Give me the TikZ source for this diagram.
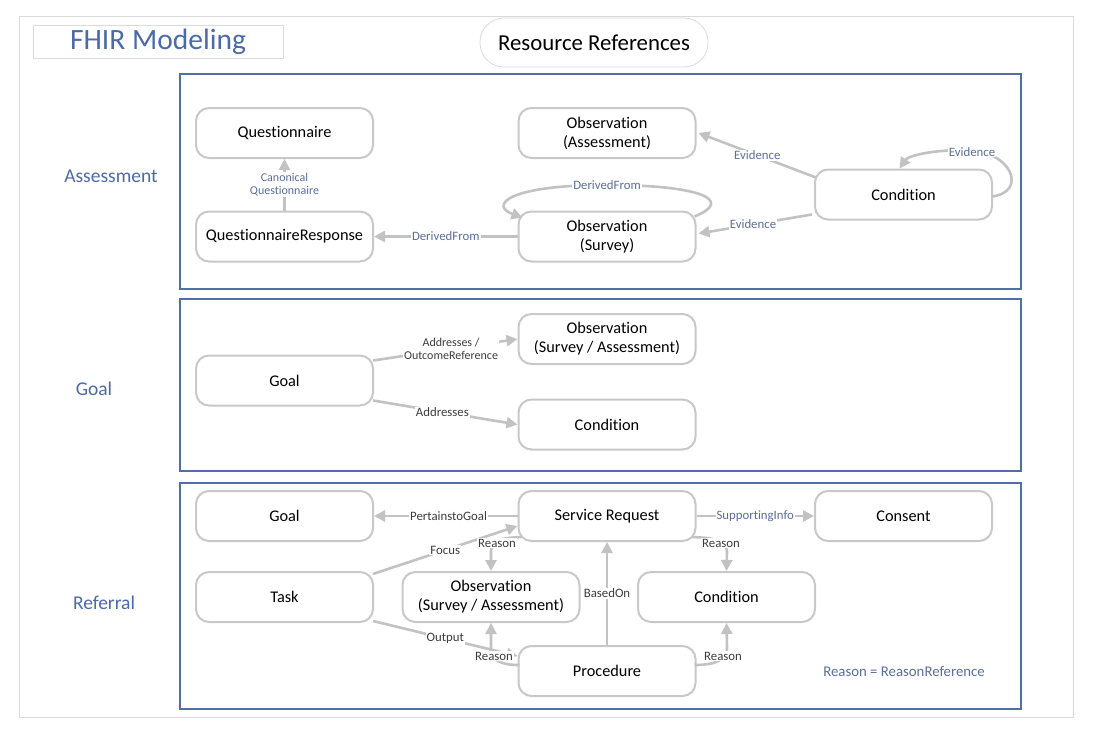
\documentclass[tikz,border=0pt]{standalone}
\usepackage{fontspec}
\setmainfont{Carlito}[Ligatures=NoCommon]
\usetikzlibrary{arrows.meta}
\definecolor{panelblue}{HTML}{4F6FA8}
\definecolor{titleblue}{HTML}{4A6AAA}
\definecolor{boxgray}{HTML}{C8C8C8}
\definecolor{linkgray}{HTML}{C2C2C2}
\definecolor{framegray}{HTML}{DADADA}
\definecolor{lblblue}{HTML}{5A6E9C}
\definecolor{lbldark}{HTML}{3C3C3C}
\tikzset{
  res/.style={draw=boxgray, line width=2pt, rounded corners=13pt, fill=white,
    minimum width=177pt, minimum height=50pt, align=center,
    font=\fontsize{16.3}{19}\selectfont, text=black},
  panel/.style={draw=panelblue, line width=1.3pt},
  link/.style={draw=linkgray, line width=2.6pt, -{Triangle[length=11pt,width=11pt]}},
  lbl/.style={fill=white, inner sep=1pt, align=center, font=\fontsize{12.8}{13.5}\selectfont},
  lb/.style={lbl, text=lblblue},
  ld/.style={lbl, text=lbldark},
  section/.style={font=\fontsize{19.5}{22}\selectfont, text=titleblue},
}
\begin{document}
\begin{tikzpicture}[x=1pt, y=-1pt]
\useasboundingbox (0,0) rectangle (1108,729);
\fill[white] (0,0) rectangle (1108,729);
% page frame and header
\draw[framegray, line width=0.8pt] (19,16) rectangle (1073,717);
\node[draw=framegray, line width=0.8pt, minimum width=250pt, minimum height=33pt,
  text=titleblue, font=\fontsize{29.5}{32}\selectfont] (title) at (158,41.5) {FHIR Modeling};
\node[draw=framegray, line width=0.8pt, rounded corners=24pt, minimum width=228pt,
  minimum height=49pt, font=\fontsize{22.8}{25}\selectfont] (subtitle) at (594,42.5) {Resource References};

% panels
\draw[panel] (180,74) rectangle (1021,289);
\draw[panel] (180,299) rectangle (1021,471);
\draw[panel] (180,483) rectangle (1021,709);
\node[section] (secA) at (111,176) {Assessment};
\node[section] (secG) at (94,389) {Goal};
\node[section] (secR) at (104,603) {Referral};

% ---- Assessment ----
\node[res] (q)   at (284.5,133) {Questionnaire};
\node[res] (qr)  at (284.5,236.5) {QuestionnaireResponse};
\node[res] (oa)  at (607,133) {Observation\\(Assessment)};
\node[res] (osv) at (607,236.5) {Observation\\(Survey)};
\node[res] (ac)  at (903.5,194.5) {Condition};

\draw[link] (qr.north) -- node[lb, font=\fontsize{12}{13.5}\selectfont]{Canonical\\Questionnaire} (q.south);
\draw[link] (osv.west) -- node[lb]{DerivedFrom} (qr.east);
\draw[link] ([shift={(-2,6)}]osv.north east)
  .. controls (735,200) and (700,185) .. (607,185)
  .. controls (505,185) and (490,206) .. ([shift={(5,7)}]osv.north west);
\node[lb] (dfl) at (607,185) {DerivedFrom};
\draw[link] ([shift={(2,9)}]ac.north west) -- node[lb, pos=0.5]{Evidence} ([xshift=2]oa.east);
\draw[link] ([shift={(-2,-6)}]ac.south west) -- node[lb, pos=0.52]{Evidence} ([shift={(2,-3)}]osv.east);
\draw[link] ([shift={(-1,2)}]ac.east)
  .. controls (1028,192) and (1012,150) .. (965,150)
  .. controls (930,150) and (908,156) .. ([xshift=-4]ac.north);
\node[lb] (evl) at (972,152) {Evidence};

% ---- Goal ----
\node[res] (g)   at (284.5,380.5) {Goal};
\node[res] (gos) at (607,339) {Observation\\(Survey / Assessment)};
\node[res] (gc)  at (607,424.5) {Condition};
\draw[link] ([shift={(-1,6)}]g.north east) -- node[ld, pos=0.54, font=\fontsize{12}{13.5}\selectfont]{Addresses /\\OutcomeReference} (gos.west);
\draw[link] ([shift={(-1,-6)}]g.south east) -- node[ld, pos=0.48]{Addresses} (gc.west);

% ---- Referral ----
\node[res] (rg)  at (284.5,516) {Goal};
\node[res] (sr)  at (607,516) {Service Request};
\node[res] (cs)  at (903.5,516) {Consent};
\node[res] (tk)  at (284.5,597) {Task};
\node[res] (ro)  at (491,597) {Observation\\(Survey / Assessment)};
\node[res] (rc)  at (726.5,597) {Condition};
\node[res] (pr)  at (607,671) {Procedure};

\draw[link] (sr.west) -- node[ld, pos=0.48]{PertainstoGoal} (rg.east);
\draw[link] (sr.east) -- node[lb]{SupportingInfo} (cs.west);
\draw[link] ([shift={(-1,3)}]tk.north east) -- node[ld, pos=0.5]{Focus} ([yshift=-10]sr.west);
\draw[link] ([shift={(-1,-2)}]tk.south east) -- node[ld, pos=0.5]{Output} ([yshift=15]pr.west);
\draw[link] (pr.north) -- node[ld, pos=0.5]{BasedOn} (sr.south);
\draw[link] ([shift={(4,-5)}]sr.south west)
  .. controls (500,538) and (491,540) .. (491,552) -- (ro.north);
\node[ld] (rl1) at (497,543) {Reason};
\draw[link] ([shift={(-4,-5)}]sr.south east)
  .. controls (715,538) and (727,540) .. (727,552) -- (rc.north);
\node[ld] (rl2) at (721,543) {Reason};
\draw[link] ([shift={(2,-6)}]pr.west)
  .. controls (500,665) and (491,660) .. (491,648) -- (ro.south);
\node[ld] (rl3) at (494,656) {Reason};
\draw[link] ([shift={(-2,-6)}]pr.east)
  .. controls (715,665) and (727,660) .. (727,648) -- (rc.south);
\node[ld] (rl4) at (723,656) {Reason};
\node[text=lblblue, font=\fontsize{14.8}{16}\selectfont] (note) at (904,671) {Reason = ReasonReference};
\end{tikzpicture}
\end{document}
